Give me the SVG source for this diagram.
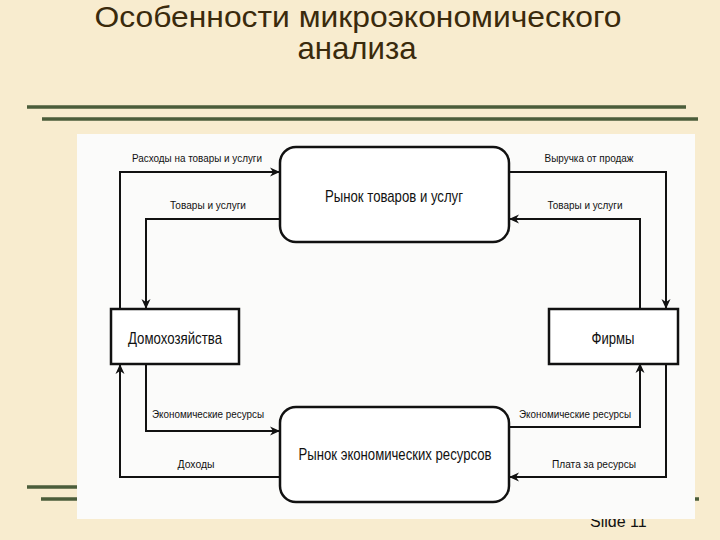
<svg xmlns="http://www.w3.org/2000/svg" width="720" height="540" viewBox="0 0 720 540">
<defs>
<marker id="ah" viewBox="0 0 10 10" refX="10" refY="5" markerWidth="10" markerHeight="10" markerUnits="userSpaceOnUse" orient="auto">
<path d="M0,0.5 L10,5 L0,9.5 L3,5 Z" fill="#111"/>
</marker>
</defs>
<style>
.title{font-family:"Liberation Sans",Arial,sans-serif;fill:#3a2a0c;text-anchor:middle}
.rule{stroke:#4b5d3a;stroke-width:3.5}
.box{fill:#fff;stroke:#111;stroke-width:2.5}
.ntxt{font-family:"Liberation Sans",Arial,sans-serif;font-size:17px;fill:#111;text-anchor:middle}
.lbl{font-family:"Liberation Sans",Arial,sans-serif;font-size:11.5px;fill:#111;text-anchor:middle}
.con{fill:none;stroke:#111;stroke-width:2;marker-end:url(#ah)}
</style>
<rect x="0" y="0" width="720" height="540" fill="#f8eccf"/>
<text class="title" x="358" y="27" font-size="29.5" textLength="527" lengthAdjust="spacingAndGlyphs">Особенности микроэкономического</text>
<text class="title" x="357" y="59" font-size="32" textLength="119" lengthAdjust="spacingAndGlyphs">анализа</text>
<line class="rule" x1="27" y1="107" x2="686" y2="107"/>
<line class="rule" x1="42" y1="119" x2="698" y2="119"/>
<line class="rule" x1="27" y1="487" x2="686" y2="487"/>
<line class="rule" x1="41" y1="499" x2="699" y2="499"/>
<text x="590" y="527" font-family="Liberation Sans, Arial, sans-serif" font-size="16" fill="#111">Slide 11</text>
<rect x="77" y="134" width="618" height="385" fill="#fbfbfa"/>
<g id="connectors">
<path class="con" d="M120,309 V172 H280"/>
<path class="con" d="M280,219 H146 V309"/>
<path class="con" d="M509,172 H666 V309"/>
<path class="con" d="M640,309 V219 H509"/>
<path class="con" d="M146,364 V431 H280"/>
<path class="con" d="M280,477 H120 V364"/>
<path class="con" d="M509,427 H640 V363"/>
<path class="con" d="M666,363 V477 H509"/>
<text class="lbl" x="197" y="162" textLength="130" lengthAdjust="spacingAndGlyphs">Расходы на товары и услуги</text>
<text class="lbl" x="208" y="209" textLength="76" lengthAdjust="spacingAndGlyphs">Товары и услуги</text>
<text class="lbl" x="589" y="162" textLength="89" lengthAdjust="spacingAndGlyphs">Выручка от продаж</text>
<text class="lbl" x="585" y="209" textLength="75" lengthAdjust="spacingAndGlyphs">Товары и услуги</text>
<text class="lbl" x="208" y="418" textLength="112" lengthAdjust="spacingAndGlyphs">Экономические ресурсы</text>
<text class="lbl" x="196" y="468" textLength="37" lengthAdjust="spacingAndGlyphs">Доходы</text>
<text class="lbl" x="575" y="418" textLength="112" lengthAdjust="spacingAndGlyphs">Экономические ресурсы</text>
<text class="lbl" x="594" y="468" textLength="84" lengthAdjust="spacingAndGlyphs">Плата за ресурсы</text>
</g>
<g id="goods-market">
<rect class="box" x="280" y="147" width="229" height="95" rx="16"/>
<text class="ntxt" x="394" y="202" textLength="138" lengthAdjust="spacingAndGlyphs">Рынок товаров и услуг</text>
</g>
<g id="resource-market">
<rect class="box" x="280" y="407" width="229" height="95" rx="16"/>
<text class="ntxt" x="395" y="460" textLength="193" lengthAdjust="spacingAndGlyphs">Рынок экономических ресурсов</text>
</g>
<g id="households">
<rect class="box" x="111" y="309" width="128" height="55"/>
<text class="ntxt" x="175" y="344" textLength="94" lengthAdjust="spacingAndGlyphs">Домохозяйства</text>
</g>
<g id="firms">
<rect class="box" x="549" y="309" width="129" height="55"/>
<text class="ntxt" x="613" y="344" textLength="43" lengthAdjust="spacingAndGlyphs">Фирмы</text>
</g>
</svg>
